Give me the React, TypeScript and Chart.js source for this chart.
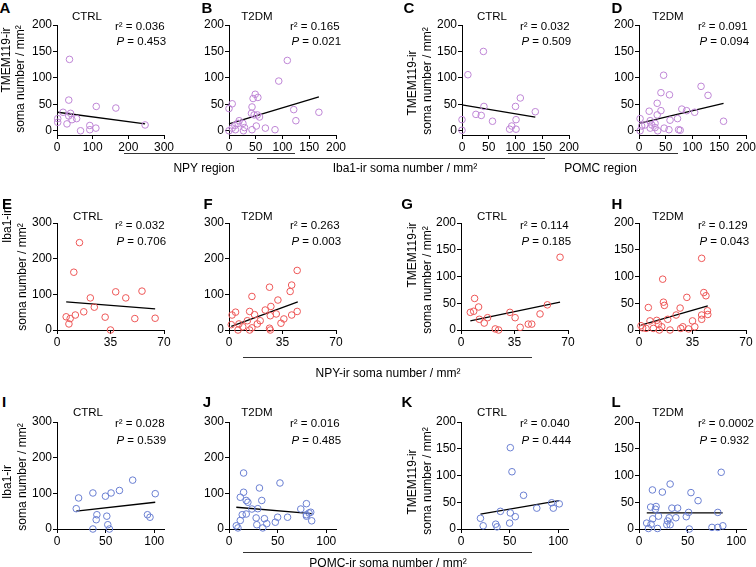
import React, { useEffect, useRef } from 'react';
import { Chart, registerables } from 'chart.js';
Chart.register(...registerables);

// ---------- data ----------
const aX = [35, 33, 110, 165, 17, 38, 33, 55, 42, 28, 2, 2, 66, 92, 92, 109, 247];
const aY = [135, 58, 46, 43, 35, 33, 28, 23, 21, 13, 23, 16, 0, 10, 2, 5, 11];
const aFitX = [2, 247];
const aFitY = [35, 13];

const bX = [109, 93, 49, 54, 45, 6, 0, 43, 42, 47, 53, 57, 121, 168, 125, 19, 17, 26, 11, 6, 29, 51, 68, 86, 0, 27, 43, 12];
const bY = [133, 94, 69, 63, 61, 51, 42, 45, 33, 30, 30, 26, 40, 35, 19, 19, 14, 14, 10, 5, 6, 9, 5, 2, 0, 0, 2, 2];
const bFitX = [0, 168];
const bFitY = [13, 64];

const cX = [40, 11, 41, 26, 36, 57, 0, 0, 109, 100, 137, 101, 89, 93, 101];
const cY = [150, 106, 46, 31, 29, 18, 21, 1, 62, 46, 36, 21, 3, 9, 3];
const cFitX = [0, 137];
const cFitY = [49, 26];

const dX = [46, 41, 57, 116, 129, 34, 19, 41, 34, 80, 89, 104, 72, 58, 158, 2, 11, 5, 21, 24, 30, 35, 47, 56, 74, 77, 2, 21, 30];
const dY = [105, 72, 68, 84, 67, 52, 37, 38, 30, 41, 38, 35, 23, 20, 18, 23, 11, 9, 19, 11, 6, 0, 5, 2, 2, 1, 0, 5, 14];
const dFitX = [0, 158];
const dFitY = [14, 52];

const eX = [14.7, 11, 21.8, 38.4, 45, 55.6, 24.4, 17.5, 12, 6, 8.6, 7.8, 31.5, 50.9, 64.2, 35];
const eY = [245, 162, 90, 107, 90, 109, 64, 51, 42, 37, 32, 17, 36, 32, 33, 0];
const eFitX = [6, 64.2];
const eFitY = [79, 59];

const fX = [44.6, 26.5, 41, 40, 15, 32, 27.4, 23.7, 30.9, 27, 44.6, 41, 13.5, 16.7, 4.3, 2, 20.4, 18.5, 35.9, 34, 12, 9, 6.5, 1.5, 15, 13.5, 5.9, 26.5, 27];
const fY = [167, 120, 126, 108, 94, 84, 66, 56, 45, 40, 52, 42, 52, 43, 50, 42, 26, 17, 31, 19, 26, 9, 17, 15, 6, 0, 0, 5, 0];
const fFitX = [1.5, 45];
const fFitY = [10, 79];

const gX = [64.8, 8.9, 11.5, 6.1, 8.3, 12, 15.2, 17.4, 32, 35.4, 22.4, 24.6, 38.7, 44, 46.3, 51.7, 56.5];
const gY = [136, 59, 43, 33, 35, 20, 13, 23, 33, 23, 2, 0, 5, 11, 11, 30, 47];
const gFitX = [6.1, 64.8];
const gFitY = [17, 52];

const hX = [41, 15.5, 42.4, 43.8, 31.3, 16, 16.6, 6.1, 26.9, 44.8, 45, 41, 41, 24.3, 18.8, 11.6, 7.2, 12.7, 35, 36.5, 1.3, 2.4, 4.6, 9.4, 13.3, 14.9, 20.3, 27.3, 28.7, 32.4];
const hY = [134, 95, 70, 64, 61, 52, 46, 42, 41, 36, 29, 28, 20, 28, 20, 18, 17, 11, 17, 6, 8, 4, 3, 3, 0, 6, 0, 3, 6, 2];
const hFitX = [1.3, 45];
const hFitY = [9, 45];

const iX = [77.8, 64.2, 55.6, 36.9, 49.8, 22.2, 101, 19.8, 41, 40.3, 51.2, 93, 95.6, 52.2, 53.9, 36.9];
const iY = [137, 108, 101, 101, 92, 87, 99, 57, 40, 26, 36, 40, 33, 12, 0, 0];
const iFitX = [19.8, 101];
const iFitY = [50, 75];

const jX = [15, 52.4, 15, 31.3, 11.6, 17.7, 19.4, 33.7, 23.5, 29.6, 13.6, 17.7, 27.9, 36.4, 50, 60.2, 73.8, 79.6, 79.6, 82.3, 84, 79.6, 85, 11.6, 7.5, 9.2, 28.6, 38.8, 47.6, 34.7];
const jY = [157, 129, 103, 115, 89, 80, 75, 80, 56, 57, 40, 42, 31, 29, 33, 33, 56, 71, 40, 45, 47, 36, 23, 24, 9, 3, 12, 15, 19, 3];
const jFitX = [7.5, 85];
const jFitY = [61, 43];

const kX = [50.7, 52.4, 64.3, 40.5, 20, 50.7, 55.8, 50, 35.7, 37, 22.8, 77.9, 93.2, 94.9, 101];
const kY = [152, 107, 63, 33, 20, 30, 23, 11, 9, 4, 6, 39, 49, 39, 47];
const kFitX = [20, 101];
const kFitY = [28, 53];

const lX = [84.5, 32, 13.8, 24, 53.4, 60.7, 12, 17.6, 16.9, 33.8, 39.7, 51, 81, 20, 48.6, 37.9, 31, 14.1, 29.3, 7.9, 12.4, 28.6, 32, 9.7, 19, 51.7, 75, 81, 86.2];
const lY = [106, 84, 73, 69, 68, 53, 41, 42, 37, 39, 39, 31, 31, 24, 23, 21, 21, 19, 15, 11, 9, 8, 8, 1, 1, 0, 3, 3, 6];
const lFitX = [8, 86];
const lFitY = [30, 30];

const ticksX300 = [0, 100, 200, 300];
const ticksX200 = [0, 50, 100, 150, 200];
const ticks200 = [0, 50, 100, 150, 200];
const ticks300 = [0, 100, 200, 300];
const ticks70 = [0, 35, 70];
const ticks100 = [0, 50, 100];

const groups = ['CTRL', 'T2DM'];
const r2Values = ['0.036', '0.165', '0.032', '0.091', '0.032', '0.263', '0.114', '0.129', '0.028', '0.016', '0.040', '0.0002'];
const pValues = ['0.453', '0.021', '0.509', '0.094', '0.706', '0.003', '0.185', '0.043', '0.539', '0.485', '0.444', '0.932'];

const PURPLE = '#bf86d6';
const RED = '#ee5757';
const BLUE = '#6a7fd2';
const FONT = '"Liberation Sans", Arial, Helvetica, sans-serif';

const PW = 107; // plot width in px

type Panel = {
  letter: string; lx: number; ly: number;
  title: string; tx: number; ty: number;
  r2: string; p: string; sx: number; sy1: number; sy2: number;
  left: number; top: number; bottom: number;
  xMax: number; xTicks: number[]; yMin: number; yMax: number; yTicks: number[];
  xs: number[]; ys: number[]; fx: number[]; fy: number[]; color: string;
};

const R1 = { top: 25, bottom: 135, yMin: -8, ty: 17, sy1: 27.3, sy2: 42.3 };
const R2 = { top: 223, bottom: 330, yMin: 0, ty: 217, sy1: 225.7, sy2: 241.7 };
const R3 = { top: 422, bottom: 529, yMin: 0, ty: 413.3, sy1: 424.3, sy2: 441 };

const panels: Panel[] = [
  { letter: 'A', lx: 5, ly: 7, title: groups[0], tx: 87, ...R1, sx: 115, r2: r2Values[0], p: pValues[0], left: 57, xMax: 300, xTicks: ticksX300, yMax: 200, yTicks: ticks200, xs: aX, ys: aY, fx: aFitX, fy: aFitY, color: PURPLE },
  { letter: 'B', lx: 207, ly: 7, title: groups[1], tx: 257, ...R1, sx: 290, r2: r2Values[1], p: pValues[1], left: 229, xMax: 200, xTicks: ticksX200, yMax: 200, yTicks: ticks200, xs: bX, ys: bY, fx: bFitX, fy: bFitY, color: PURPLE },
  { letter: 'C', lx: 409, ly: 7, title: groups[0], tx: 492, ...R1, sx: 520, r2: r2Values[2], p: pValues[2], left: 462, xMax: 200, xTicks: ticksX200, yMax: 200, yTicks: ticks200, xs: cX, ys: cY, fx: cFitX, fy: cFitY, color: PURPLE },
  { letter: 'D', lx: 617, ly: 7, title: groups[1], tx: 668, ...R1, sx: 698, r2: r2Values[3], p: pValues[3], left: 639, xMax: 200, xTicks: ticksX200, yMax: 200, yTicks: ticks200, xs: dX, ys: dY, fx: dFitX, fy: dFitY, color: PURPLE },
  { letter: 'E', lx: 7, ly: 203, title: groups[0], tx: 88, ...R2, sx: 115, r2: r2Values[4], p: pValues[4], left: 57, xMax: 70, xTicks: ticks70, yMax: 300, yTicks: ticks300, xs: eX, ys: eY, fx: eFitX, fy: eFitY, color: RED },
  { letter: 'F', lx: 208, ly: 203, title: groups[1], tx: 257, ...R2, sx: 290, r2: r2Values[5], p: pValues[5], left: 229, xMax: 70, xTicks: ticks70, yMax: 300, yTicks: ticks300, xs: fX, ys: fY, fx: fFitX, fy: fFitY, color: RED },
  { letter: 'G', lx: 407, ly: 203, title: groups[0], tx: 492, ...R2, sx: 520, r2: r2Values[6], p: pValues[6], left: 461, xMax: 70, xTicks: ticks70, yMax: 200, yTicks: ticks200, xs: gX, ys: gY, fx: gFitX, fy: gFitY, color: RED },
  { letter: 'H', lx: 617, ly: 203, title: groups[1], tx: 668, ...R2, sx: 698, r2: r2Values[7], p: pValues[7], left: 639, xMax: 70, xTicks: ticks70, yMax: 200, yTicks: ticks200, xs: hX, ys: hY, fx: hFitX, fy: hFitY, color: RED },
  { letter: 'I', lx: 4, ly: 401, title: groups[0], tx: 88, ...R3, sx: 115, r2: r2Values[8], p: pValues[8], left: 57, xMax: 110, xTicks: ticks100, yMax: 300, yTicks: ticks300, xs: iX, ys: iY, fx: iFitX, fy: iFitY, color: BLUE },
  { letter: 'J', lx: 207, ly: 401, title: groups[1], tx: 257, ...R3, sx: 290, r2: r2Values[9], p: pValues[9], left: 229, xMax: 110, xTicks: ticks100, yMax: 300, yTicks: ticks300, xs: jX, ys: jY, fx: jFitX, fy: jFitY, color: BLUE },
  { letter: 'K', lx: 407, ly: 401, title: groups[0], tx: 492, ...R3, sx: 520, r2: r2Values[10], p: pValues[10], left: 461, xMax: 110, xTicks: ticks100, yMax: 200, yTicks: ticks200, xs: kX, ys: kY, fx: kFitX, fy: kFitY, color: BLUE },
  { letter: 'L', lx: 616, ly: 401, title: groups[1], tx: 668, ...R3, sx: 698, r2: r2Values[11], p: pValues[11], left: 639, xMax: 110, xTicks: ticks100, yMax: 200, yTicks: ticks200, xs: lX, ys: lY, fx: lFitX, fy: lFitY, color: BLUE },
];

// y-axis labels: two rotated lines with their centres
const yLabels = [
  { l1: 'TMEM119-ir', x1: 6, y1: 60, x2: 19.5, y2: 79 },
  { l1: 'TMEM119-ir', x1: 411.7, y1: 83, x2: 426.7, y2: 81 },
  { l1: 'Iba1-ir', x1: 7, y1: 226, x2: 21.7, y2: 277 },
  { l1: 'TMEM119-ir', x1: 411.7, y1: 255, x2: 426.7, y2: 280 },
  { l1: 'Iba1-ir', x1: 6.7, y1: 481.7, x2: 21.7, y2: 477 },
  { l1: 'TMEM119-ir', x1: 411.7, y1: 481.7, x2: 426.7, y2: 481 },
];

const groupLines = [
  { x1: 124, x2: 295, y: 153 },
  { x1: 257, x2: 545, y: 158 },
  { x1: 508, x2: 678, y: 153 },
  { x1: 243, x2: 532, y: 357 },
  { x1: 243, x2: 532, y: 552 },
];

const groupLabels = [
  { text: 'NPY region', x: 204, y: 168.3 },
  { text: 'Iba1-ir soma number / mm²', x: 405, y: 168.3 },
  { text: 'POMC region', x: 600.5, y: 168.3 },
  { text: 'NPY-ir soma number / mm²', x: 388, y: 373 },
  { text: 'POMC-ir soma number / mm²', x: 388, y: 563 },
];

const PAD_L = 45, PAD_T = 20, PAD_R = 25, PAD_B = 25;
const YW = 40, XH = 20;

function ScatterPanel({ cfg }: { cfg: Panel }) {
  const ref = useRef<HTMLCanvasElement>(null);
  const w = PW + PAD_L + PAD_R;
  const h = cfg.bottom - cfg.top + PAD_T + PAD_B;
  useEffect(() => {
    if (!ref.current) return;
    const axisCommon = {
      type: 'linear' as const,
      grid: { drawOnChartArea: false, drawTicks: true, tickLength: 4, color: '#000', lineWidth: 1 },
      border: { display: true, color: '#000', width: 1 },
    };
    const chart = new Chart(ref.current, {
      type: 'scatter',
      data: {
        datasets: [
          {
            data: cfg.xs.map((x, i) => ({ x, y: cfg.ys[i] })),
            pointRadius: 3.3,
            pointHoverRadius: 3.3,
            borderColor: cfg.color,
            backgroundColor: 'rgba(0,0,0,0)',
            pointBorderWidth: 1,
            borderWidth: 1,
            clip: false as any,
          },
          {
            data: cfg.fx.map((x, i) => ({ x, y: cfg.fy[i] })),
            showLine: true,
            pointRadius: 0,
            borderColor: '#000',
            borderWidth: 1.3,
            backgroundColor: '#000',
            clip: false as any,
          },
        ],
      },
      options: {
        responsive: false,
        maintainAspectRatio: false,
        animation: false,
        events: [],
        layout: { padding: { left: PAD_L - YW, top: PAD_T, right: PAD_R, bottom: PAD_B - XH } },
        plugins: { legend: { display: false }, tooltip: { enabled: false }, title: { display: false } },
        scales: {
          x: {
            ...axisCommon,
            min: 0,
            max: cfg.xMax,
            afterBuildTicks: (s: any) => { s.ticks = cfg.xTicks.map((v) => ({ value: v })); },
            afterFit: (s: any) => { s.height = XH; },
            ticks: { color: '#000', font: { family: FONT, size: 12 }, padding: 1, maxRotation: 0, autoSkip: false },
          },
          y: {
            ...axisCommon,
            min: cfg.yMin,
            max: cfg.yMax,
            afterBuildTicks: (s: any) => { s.ticks = cfg.yTicks.map((v) => ({ value: v })); },
            afterFit: (s: any) => { s.width = YW; },
            ticks: { color: '#000', font: { family: FONT, size: 12 }, padding: 1, autoSkip: false },
          },
        },
      },
    });
    return () => chart.destroy();
  }, []);
  return (
    <canvas
      ref={ref}
      width={w}
      height={h}
      style={{ position: 'absolute', left: cfg.left - PAD_L, top: cfg.top - PAD_T, width: w, height: h }}
    />
  );
}

const centered = (x: number, y: number, extra: React.CSSProperties = {}): React.CSSProperties => ({
  position: 'absolute', left: x, top: y, transform: 'translate(-50%, -50%)', whiteSpace: 'nowrap', lineHeight: 1, fontFamily: FONT, color: '#000', ...extra,
});

const statStyle = (x: number, y: number): React.CSSProperties => ({
  position: 'absolute', left: x, top: y, transform: 'translateY(-50%)', whiteSpace: 'nowrap', fontSize: 11.5, lineHeight: 1, fontFamily: FONT, color: '#000',
});

export default function App() {
  return (
    <div style={{ position: 'absolute', left: 0, top: 0, width: 756, height: 567, overflow: 'hidden', background: '#fff', fontFamily: FONT }}>
      {panels.map((p) => <ScatterPanel key={p.letter} cfg={p} />)}
      {panels.map((p) => (
        <React.Fragment key={'t' + p.letter}>
          <div style={centered(p.lx, p.ly, { fontSize: 15, fontWeight: 'bold' })}>{p.letter}</div>
          <div style={centered(p.tx, p.ty, { fontSize: 11.5 })}>{p.title}</div>
          <div style={statStyle(p.sx, p.sy1)}>r² = {p.r2}</div>
          <div style={statStyle(p.sx + 1.5, p.sy2)}><i>P</i> = {p.p}</div>
        </React.Fragment>
      ))}
      {yLabels.map((l, i) => (
        <React.Fragment key={'y' + i}>
          <div style={centered(l.x1, l.y1, { fontSize: 12, transform: 'translate(-50%, -50%) rotate(-90deg)' })}>{l.l1}</div>
          <div style={centered(l.x2, l.y2, { fontSize: 12, transform: 'translate(-50%, -50%) rotate(-90deg)' })}>soma number / mm²</div>
        </React.Fragment>
      ))}
      {groupLines.map((g, i) => (
        <div key={'g' + i} style={{ position: 'absolute', left: g.x1, top: g.y, width: g.x2 - g.x1, height: 1, background: '#333' }} />
      ))}
      {groupLabels.map((g, i) => (
        <div key={'gl' + i} style={centered(g.x, g.y, { fontSize: 12 })}>{g.text}</div>
      ))}
    </div>
  );
}
